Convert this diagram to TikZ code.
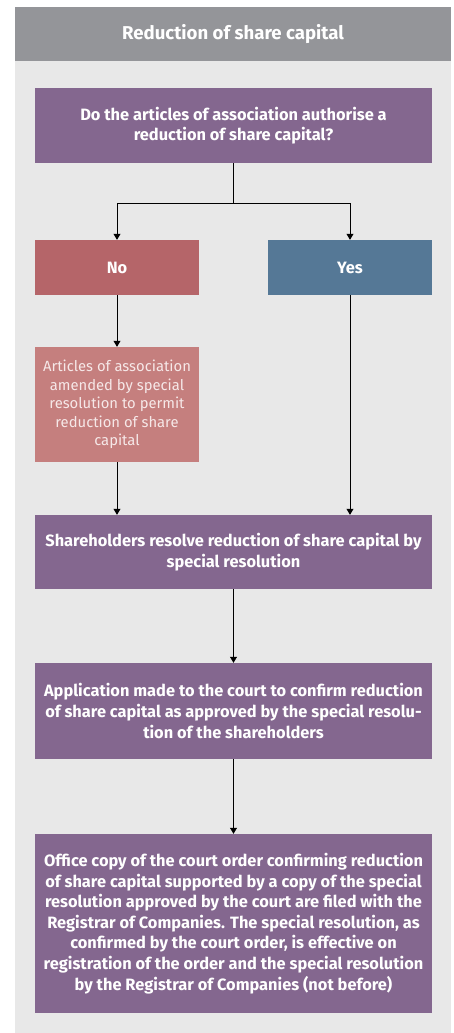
\documentclass[tikz,border=0pt]{standalone}
\usepackage{fontspec}
\setmainfont{Fira Sans}
\usetikzlibrary{arrows.meta}
\definecolor{hdr}{HTML}{949599}
\definecolor{bg}{HTML}{E8E8E8}
\definecolor{purp}{HTML}{84678F}
\definecolor{nored}{HTML}{B56569}
\definecolor{yesblue}{HTML}{557896}
\definecolor{pink}{HTML}{C57F7E}
\definecolor{pinktext}{HTML}{F6E8E8}
\tikzset{
  box/.style={rectangle, inner sep=0pt, text=white, align=center, font=\fontsize{16.4}{20.6}\selectfont\bfseries},
  wide/.style={box, fill=purp, minimum width=397pt},
  half/.style={box, minimum width=164pt},
  arr/.style={draw=black, line width=0.8pt, -{Triangle[length=6pt,width=7pt]}},
  ln/.style={draw=black, line width=0.8pt}
}
\begin{document}
\begin{tikzpicture}[x=1pt,y=-1pt]
\useasboundingbox (0,0) rectangle (454,1033);
\fill[white] (0,0) rectangle (454,1033);
\fill[bg] (15,7) rectangle (451,1033);
\fill[hdr] (15,7) rectangle (451,61);
\node[text=white, font=\fontsize{18.6}{22}\selectfont\bfseries] (title) at (233,34) {Reduction of share capital};
\node[wide, minimum height=75pt] (q) at (233.5,125.5) {Do the articles of association authorise a\\reduction of share capital?};
\node[half, fill=nored, minimum height=55pt] (no) at (117,267.5) {No};
\node[half, fill=yesblue, minimum height=55pt] (yes) at (350,267.5) {Yes};
\node[half, fill=pink, text=pinktext, minimum height=115pt, font=\fontsize{14.8}{18.4}\selectfont] (art) at (117,404.5) {Articles of association\\amended by special\\resolution to permit\\reduction of share\\capital};
\node[wide, minimum height=74pt] (sh) at (233.5,552) {Shareholders resolve reduction of share capital by\\special resolution};
\node[wide, minimum height=96pt] (app) at (233.5,711) {Application made to the court to confirm reduction\\of share capital as approved by the special resolu-\\tion of the shareholders};
\node[wide, minimum height=179pt] (off) at (233.5,923.5) {Office copy of the court order confirming reduction\\of share capital supported by a copy of the special\\resolution approved by the court are filed with the\\Registrar of Companies. The special resolution, as\\confirmed by the court order, is effective on\\registration of the order and the special resolution\\by the Registrar of Companies (not before)};
\coordinate (split) at (233.5,203);
\draw[ln] (q.south) -- (split);
\draw[arr] (split) -| (no.north);
\draw[arr] (split) -| (yes.north);
\draw[arr] (no.south) -- (art.north);
\draw[arr] (art.south) -- (art.south |- sh.north);
\draw[arr] (yes.south) -- (yes.south |- sh.north);
\draw[arr] (sh.south) -- (app.north);
\draw[arr] (app.south) -- (off.north);
\end{tikzpicture}
\end{document}
